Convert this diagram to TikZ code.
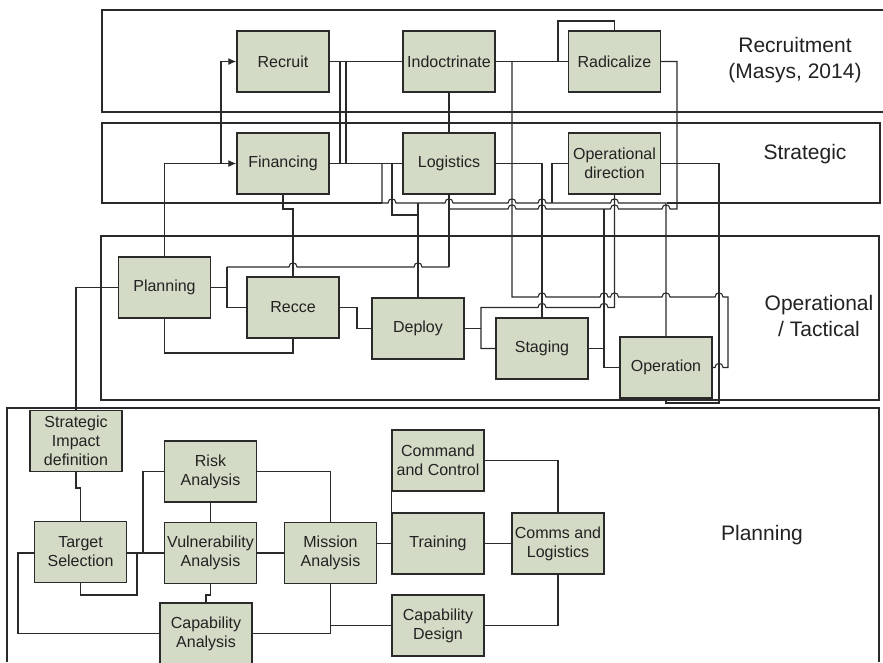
\documentclass[tikz,border=0pt]{standalone}
\usepackage{fontspec}
\setmainfont{Liberation Sans}
\usetikzlibrary{arrows.meta}
\definecolor{boxfill}{HTML}{D3DAC5}
\definecolor{ln}{HTML}{2A2A2A}
\definecolor{txt}{HTML}{222222}
\pgfdeclarelayer{bg}
\pgfsetlayers{bg,main}
\newcommand{\jmp}[2]{-- (#1-4,#2) .. controls (#1-4,#2-5.5) and (#1+4,#2-5.5) .. (#1+4,#2)}
\newcommand{\jmpl}[2]{-- (#1+4,#2) .. controls (#1+4,#2-5.5) and (#1-4,#2-5.5) .. (#1-4,#2)}
\tikzset{
  box/.style={draw=ln, line width=1.4pt, fill=boxfill, minimum width=92pt, minimum height=61pt,
    inner sep=0pt, align=center, text=txt, font=\fontsize{16}{19}\selectfont},
  band/.style={draw=ln, line width=1.3pt},
  wire/.style={draw=ln, line width=1.1pt},
  bandlabel/.style={align=center, text=txt, font=\fontsize{21}{26}\selectfont},
  arr/.style={-{Latex[length=8pt,width=7pt]}}
}
\begin{document}
\begin{tikzpicture}[x=1pt,y=-1pt]
\useasboundingbox (0,0) rectangle (883,662);

% boxes
\node[box] (rec) at (283,61.5) {Recruit};
\node[box] (ind) at (449,61.5) {Indoctrinate};
\node[box] (rad) at (614.5,61.5) {Radicalize};
\node[box] (fin) at (283,163.5) {Financing};
\node[box] (log) at (449,163.5) {Logistics};
\node[box] (opd) at (614.5,163.5) {Operational\\direction};
\node[box] (pla) at (164.5,287.5) {Planning};
\node[box] (rcc) at (293,307.5) {Recce};
\node[box] (dep) at (418,328.5) {Deploy};
\node[box] (stg) at (542,348.5) {Staging};
\node[box] (opn) at (666,367.5) {Operation};
\node[box] (sid) at (76,441) {Strategic\\Impact\\definition};
\node[box] (tgt) at (80.5,552) {Target\\Selection};
\node[box] (rsk) at (210.5,471.5) {Risk\\Analysis};
\node[box] (vul) at (210.5,553) {Vulnerability\\Analysis};
\node[box] (mis) at (330.5,553) {Mission\\Analysis};
\node[box] (cap) at (206,633.5) {Capability\\Analysis};
\node[box] (cc) at (438,460.5) {Command\\and Control};
\node[box] (trn) at (438,543.5) {Training};
\node[box] (com) at (558,543.5) {Comms and\\Logistics};
\node[box] (cd) at (438,625.5) {Capability\\Design};

% band labels
\node[bandlabel] (lrec) at (795,60) {Recruitment\\(Masys, 2014)};
\node[bandlabel] (lstr) at (805,154) {Strategic};
\node[bandlabel] (lopt) at (819,316) {Operational\\/ Tactical};
\node[bandlabel] (lpla) at (762,535) {Planning};

\begin{pgfonlayer}{bg}
\fill[white] (0,0) rectangle (883,662);
% bands
\draw[band] (883,10) -- (102,10) -- (102,112) -- (883,112);
\draw[band] (382,203) -- (102,203) -- (102,123) -- (880,123) -- (880,203) -- (667,203);
\draw[band] (101,236) rectangle (879,400);
\draw[band] (7,662) -- (7,408) -- (879,408) -- (879,662);

% recruitment / strategic wiring
\draw[wire] (rec.east) -- (ind.west);
\draw[wire] (340,61.5) -- (340,163.5);
\draw[wire] (346,61.5) -- (346,163.5);
\draw[wire] (fin.east) -- (log.west);
\draw[wire,arr] (pla.north) -- (164.5,163.5) -- (fin.west);
\draw[wire,arr] (221,163.5) -- (221,61.5) -- (rec.west);
\draw[wire] (ind.south) -- (log.north);
\draw[wire] (ind.east) -- (rad.west);
\draw[wire] (558,61.5) -- (558,21) -- (614.5,21) -- (rad.north);
\draw[wire] (449,209) \jmp{512}{209} \jmp{542}{209} \jmp{614.5}{209} \jmp{666}{209} -- (677,209) -- (677,61.5) -- (rad.east);
\draw[wire] (382,163.5) -- (382,203) \jmp{392}{203} \jmp{449}{203} \jmp{512}{203} \jmp{542}{203} -- (552,203) \jmp{614.5}{203} -- (666,203) -- (opn.north);
\draw[wire] (opd.west) -- (552,163.5) -- (552,203);
\draw[wire] (392,163.5) -- (392,215) -- (418,215);
\draw[wire] (418,203) -- (dep.north);
\draw[wire] (log.east) -- (542,163.5) -- (stg.north);
\draw[wire] (512,61.5) -- (512,297) \jmp{542}{297} \jmp{604}{297} \jmp{614.5}{297} \jmp{666}{297} \jmp{719}{297} -- (728,297) -- (728,367.5) \jmpl{719}{367.5} -- (opn.east);
\draw[wire] (opd.south) -- (614.5,307.5) \jmpl{604}{307.5} \jmpl{542}{307.5} -- (481,307.5) -- (481,348.5) -- (stg.west);
\draw[wire] (dep.east) -- (481,328.5);
\draw[wire] (opd.east) -- (719,163.5) -- (719,403) -- (666,403) -- (opn.south);
\draw[wire] (stg.east) -- (604,348.5) -- (604,367.5) -- (opn.west);
\draw[wire] (604,209) -- (604,348.5);

% operational wiring
\draw[wire] (log.south) -- (449,267);
\draw[wire] (227,267) \jmp{293}{267} \jmp{418}{267} -- (449,267);
\draw[wire] (pla.east) -- (227,287.5);
\draw[wire] (227,267) -- (227,307.5) -- (rcc.west);
\draw[wire] (fin.south) -- (283,209) -- (293,209) -- (rcc.north);
\draw[wire] (pla.south) -- (164.5,353) -- (293,353) -- (rcc.south);
\draw[wire] (pla.west) -| (sid.north);
\draw[wire] (rcc.east) -- (357,307.5) -- (357,328.5) -- (dep.west);

% planning wiring
\draw[wire] (sid.south) -- (76,488) -- (80.5,488) -- (tgt.north);
\draw[wire] (tgt.east |- vul.west) -- (vul.west);
\draw[wire] (143,553) |- (rsk.west);
\draw[wire] (137,553) -- (137,595) -- (80.5,595) -- (tgt.south);
\draw[wire] (rsk.south) -- (vul.north);
\draw[wire] (rsk.east) -| (mis.north);
\draw[wire] (vul.east) -- (mis.west);
\draw[wire] (vul.south) -- (210.5,595) -- (206,595) -- (cap.north);
\draw[wire] (tgt.west |- vul.west) -- (18,553) |- (cap.west);
\draw[wire] (cap.east) -- (330.5,633.5) -- (mis.south);
\draw[wire] (330.5,625.5) -- (cd.west);
\draw[wire] (mis.east |- trn.west) -- (trn.west);
\draw[wire] (cc.south west) -- (trn.north west);
\draw[wire] (cc.east) -| (com.north);
\draw[wire] (trn.east) -- (com.west);
\draw[wire] (cd.east) -| (com.south);
\end{pgfonlayer}
\end{tikzpicture}
\end{document}
